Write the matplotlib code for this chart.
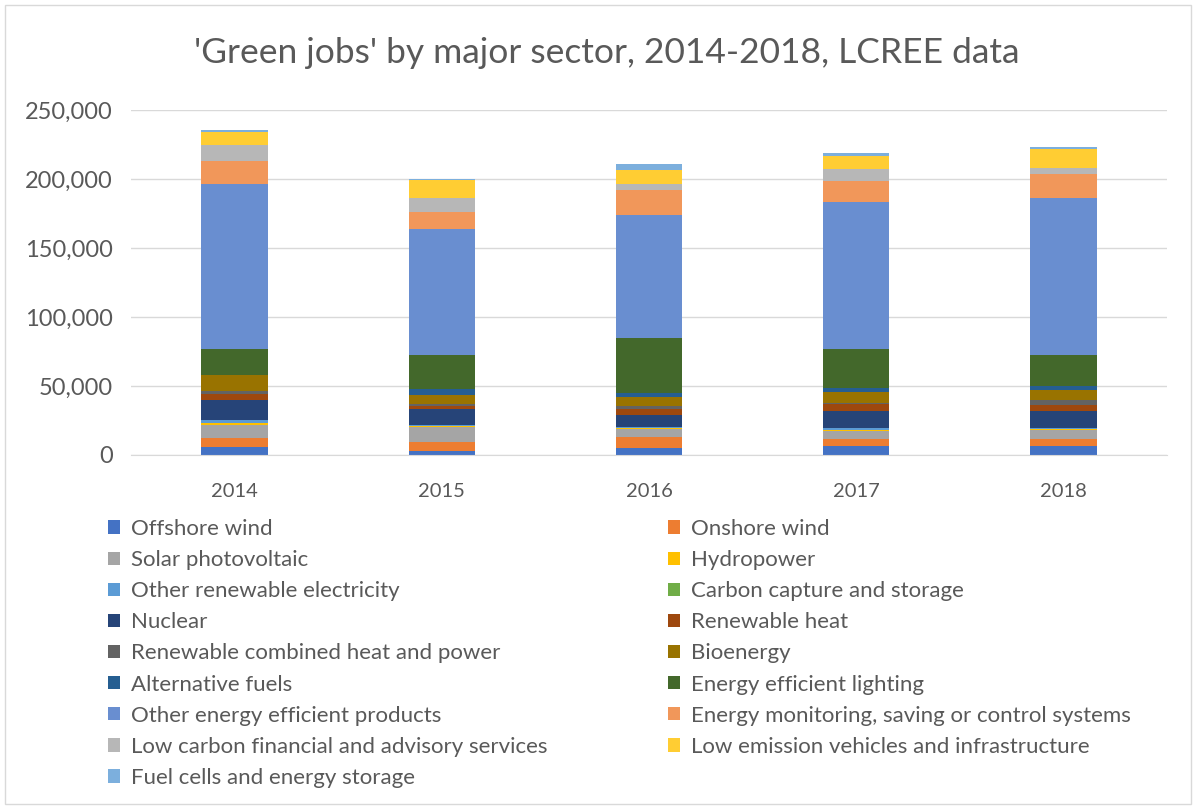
import numpy as np
import matplotlib
matplotlib.use('Agg')
import matplotlib.pyplot as plt
from matplotlib.patches import Rectangle

plt.rcParams['font.family'] = ['Lato', 'DejaVu Sans']

years = ['2014', '2015', '2016', '2017', '2018']

sectors = [
    'Offshore wind', 'Onshore wind', 'Solar photovoltaic', 'Hydropower',
    'Other renewable electricity', 'Carbon capture and storage', 'Nuclear',
    'Renewable heat', 'Renewable combined heat and power', 'Bioenergy',
    'Alternative fuels', 'Energy efficient lighting',
    'Other energy efficient products',
    'Energy monitoring, saving or control systems',
    'Low carbon financial and advisory services',
    'Low emission vehicles and infrastructure',
    'Fuel cells and energy storage',
]

colors = [
    '#4472C4', '#ED7D31', '#A5A5A5', '#FFC000', '#5B9BD5', '#70AD47',
    '#264478', '#9E480E', '#636363', '#997300', '#255E91', '#43682B',
    '#698ED0', '#F1975A', '#B7B7B7', '#FFCD33', '#7CAFDD',
]

# jobs per sector, one value per year (2014..2018)
offshore_wind = [5500, 2900, 4800, 6700, 6700]
onshore_wind = [6500, 6700, 8400, 4800, 4600]
solar_pv = [9600, 10800, 5300, 5800, 6700]
hydropower = [1400, 500, 1200, 1000, 1000]
other_renewable = [2200, 900, 300, 900, 900]
ccs = [0, 0, 0, 0, 0]
nuclear = [14500, 11300, 9200, 12800, 11800]
renewable_heat = [4800, 2400, 4100, 4600, 4800]
renewable_chp = [1700, 1200, 2400, 1200, 3100]
bioenergy = [11600, 6700, 6300, 7500, 7200]
alternative_fuels = [300, 4100, 2900, 2900, 2900]
ee_lighting = [18500, 25300, 39800, 28400, 22900]
other_ee_products = [119500, 91100, 89200, 106500, 114000]
energy_monitoring = [17300, 12500, 18500, 15700, 16900]
low_carbon_financial = [11600, 9600, 4300, 8400, 4300]
low_emission_vehicles = [9400, 13200, 10100, 9600, 13700]
fuel_cells = [1200, 500, 3900, 1900, 1900]

series = [
    offshore_wind, onshore_wind, solar_pv, hydropower, other_renewable, ccs,
    nuclear, renewable_heat, renewable_chp, bioenergy, alternative_fuels,
    ee_lighting, other_ee_products, energy_monitoring, low_carbon_financial,
    low_emission_vehicles, fuel_cells,
]

text_col = '#595959'

fig = plt.figure(figsize=(11.96, 8.09), dpi=100)
ax = fig.add_axes([0.1095, 0.4376, 0.8663, 0.4264])

x = np.arange(len(years))
bottom = np.zeros(len(years))
handles = []
for name, vals, col in zip(sectors, series, colors):
    vals = np.array(vals, dtype=float)
    b = ax.bar(x, vals, 0.32, bottom=bottom, color=col, label=name,
               linewidth=0)
    handles.append(b)
    bottom += vals

ax.set_xlim(-0.5, len(years) - 0.5)
ax.set_ylim(0, 250000)
ax.set_yticks(np.arange(0, 250001, 50000))
ax.yaxis.set_major_formatter(matplotlib.ticker.FuncFormatter(
    lambda v, p: '{:,.0f}'.format(v)))
ax.set_xticks(x)
ax.set_xticklabels(years)
ax.tick_params(axis='both', length=0, colors=text_col)
ax.tick_params(axis='y', pad=13, labelsize=17)
ax.tick_params(axis='x', pad=20, labelsize=14.5)
ax.grid(axis='y', color='#D9D9D9', linewidth=1)
ax.set_axisbelow(True)
for s in ['top', 'right', 'left']:
    ax.spines[s].set_visible(False)
ax.spines['bottom'].set_color('#D9D9D9')

fig.text(0.507, 0.935, "'Green jobs' by major sector, 2014-2018, LCREE data",
         ha='center', va='center', fontsize=25.5, color=text_col)

leg_kw = dict(frameon=False, fontsize=16, labelcolor=text_col,
              handlelength=0.55, handleheight=0.55, handletextpad=0.5,
              labelspacing=0.5, borderaxespad=0, borderpad=0)
fig.legend(handles[0::2], sectors[0::2], loc='upper left',
           bbox_to_anchor=(0.0903, 0.3585), **leg_kw)
fig.legend(handles[1::2], sectors[1::2], loc='upper left',
           bbox_to_anchor=(0.5585, 0.3585), **leg_kw)

fig.patches.append(Rectangle((0.004, 0.006), 0.992, 0.988,
                             transform=fig.transFigure, fill=False,
                             edgecolor='#D9D9D9', linewidth=1))

fig.savefig('out.png', dpi=100)
